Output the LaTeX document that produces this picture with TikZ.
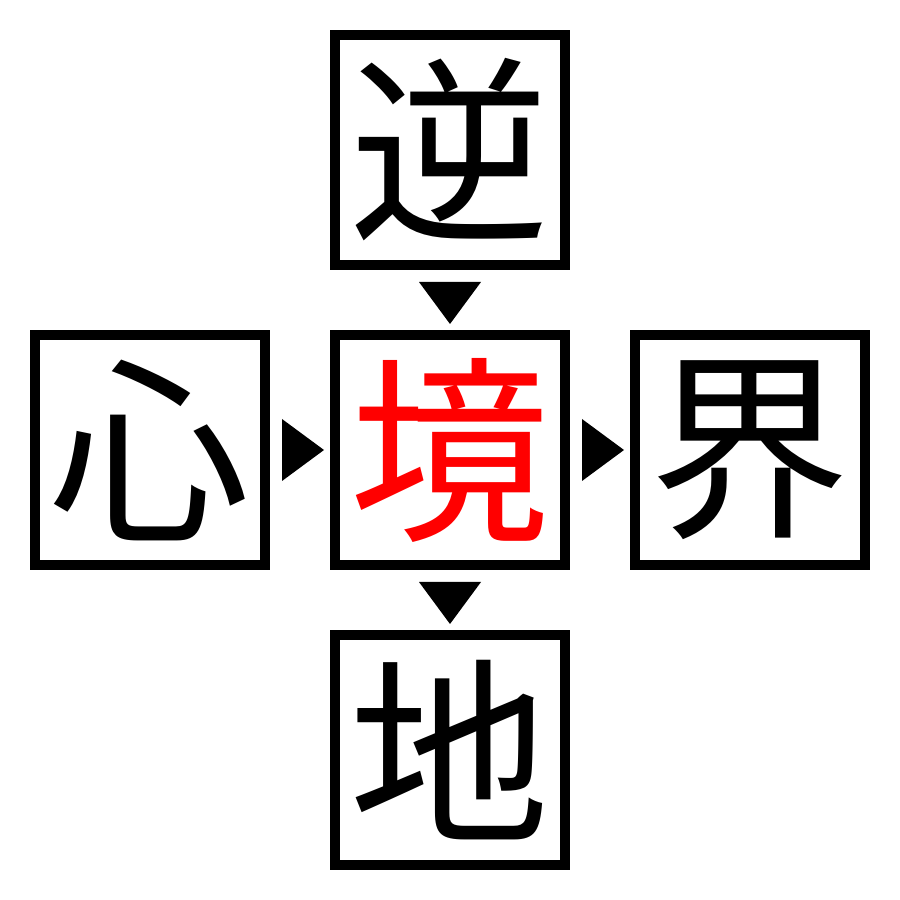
\documentclass[tikz,border=0pt]{standalone}
\usepackage{fontspec}
\usetikzlibrary{calc}
\newfontfamily\cjk{Noto Sans CJK JP}
\begin{document}
\begin{tikzpicture}[x=1cm,y=1cm,
  charbox/.style={draw=black, line width=0.1cm, fill=white, minimum size=2.3cm, inner sep=0pt, font=\cjk\fontsize{57}{57}\selectfont},
  tri/.style={fill=black, draw=none}]
\useasboundingbox (0,0) rectangle (9,9);
\node[charbox] (top) at (4.5,7.5) {逆};
\node[charbox, text=red] (mid) at (4.5,4.5) {境};
\node[charbox] (left) at (1.5,4.5) {心};
\node[charbox] (right) at (7.5,4.5) {界};
\node[charbox] (bot) at (4.5,1.5) {地};
% down triangles
\fill[tri] ($(top.south)+(-0.31,-0.12)$) -- ++(0.62,0) -- ++(-0.31,-0.42) -- cycle;
\fill[tri] ($(mid.south)+(-0.31,-0.12)$) -- ++(0.62,0) -- ++(-0.31,-0.42) -- cycle;
% right triangles
\fill[tri] ($(left.east)+(0.12,0.31)$) -- ++(0,-0.62) -- ++(0.42,0.31) -- cycle;
\fill[tri] ($(mid.east)+(0.12,0.31)$) -- ++(0,-0.62) -- ++(0.42,0.31) -- cycle;
\end{tikzpicture}
\end{document}
